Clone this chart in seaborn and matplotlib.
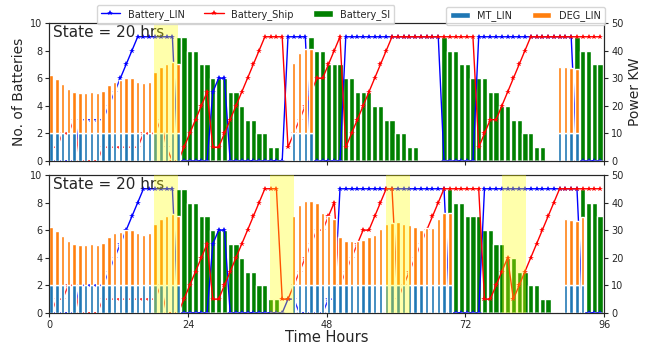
import numpy as np
import matplotlib
matplotlib.use("Agg")
import matplotlib.pyplot as plt
import seaborn as sns

hours = list(range(96))

# ---------------- top panel ----------------
top_lin = [0,0,0,0,0,3,3,3,3,3,4,5,
           6,7,8,9,9,9,9,9,9,9,0,0,
           0,0,0,0,5,6,6,0,0,0,0,0,
           0,0,0,0,0,9,9,9,9,0,0,0,
           0,0,0,9,9,9,9,9,9,9,9,9,
           9,9,9,9,9,9,9,9,0,0,0,0,
           0,0,9,9,9,9,9,9,9,9,9,9,
           9,9,9,9,9,9,9,0,0,0,0,0]
top_ship = [1,1,2,2,3,0,0,0,0,1,1,1,
            1,1,1,1,2,2,2,3,1,0,0,1,
            2,3,4,5,1,1,2,3,4,5,6,7,
            8,9,9,9,9,1,2,3,4,5,6,6,
            7,8,9,1,2,3,4,5,6,7,8,9,
            9,9,9,9,9,9,9,9,9,9,9,9,
            9,9,1,2,3,3,4,5,6,7,8,9,
            9,9,9,9,9,9,9,9,9,9,9,9]
top_si = [0,0,0,0,0,0,0,0,0,0,0,0,
          0,0,0,0,0,0,0,0,0,0,9,9,
          8,8,7,7,6,6,6,5,5,4,3,3,
          2,2,1,1,0,0,0,0,0,9,8,8,
          7,7,7,6,6,5,5,5,4,4,3,3,
          2,2,1,1,0,0,0,0,9,8,8,7,
          7,6,6,6,5,5,4,4,3,3,2,2,
          1,1,0,0,0,0,0,9,8,8,7,7]
top_mt = [10,10,10,10,10,10,10,10,10,10,10,10,
          10,10,10,10,10,10,10,10,10,10,10,0,
          0,0,0,0,0,0,0,0,0,0,0,0,
          0,0,0,0,0,0,10,10,10,10,0,0,
          0,0,0,0,0,0,0,0,0,0,0,0,
          0,0,0,0,0,0,0,0,0,0,0,0,
          0,0,0,0,0,0,0,0,0,0,0,0,
          0,0,0,0,10,10,10,10,0,0,0,0]
top_deg = [21,19.8,18,16,15,14.6,14.6,15,14.6,15.2,17.4,18.8,
           19.4,20,20,18.8,18.2,18.8,22.2,24,25.2,26,25.2,0,
           0,0,0,0,0,0,0,0,0,0,0,0,
           0,0,0,0,0,0,25.5,29,30.7,30.7,0,0,
           0,0,0,0,0,0,0,0,0,0,0,0,
           0,0,0,0,0,0,0,0,0,0,0,0,
           0,0,0,0,0,0,0,0,0,0,0,0,
           0,0,0,0,24.2,24.2,23.6,23.3,0,0,0,0]

# ---------------- bottom panel ----------------
bot_lin = [0,0,0,0,0,2,2,2,2,2,3,4,
           5,6,7,8,9,9,9,9,9,9,0,0,
           0,0,0,0,5,6,6,0,0,0,0,0,
           0,0,0,0,0,1,1,0,0,0,0,0,
           1,1,9,9,9,9,9,9,9,9,9,9,
           9,9,9,9,9,9,9,9,9,0,0,0,
           0,0,0,9,9,9,9,9,9,9,9,9,
           9,9,9,9,9,9,9,9,0,0,0,0]
bot_ship = [0,1,1,2,2,0,0,0,0,1,1,1,
            1,1,1,1,1,1,1,2,0,0,0,1,
            2,3,4,5,1,1,2,3,4,5,6,7,
            8,9,9,9,1,1,2,3,4,5,6,6,
            7,8,2,3,4,5,6,6,7,8,9,9,
            1,2,3,4,5,6,7,8,9,9,9,9,
            9,9,9,1,1,2,3,4,1,2,3,4,
            5,6,7,8,9,9,9,9,9,9,9,9]
bot_si = [0,0,0,0,0,0,0,0,0,0,0,0,
          0,0,0,0,0,0,0,0,0,0,9,9,
          8,8,7,7,6,6,6,5,5,4,3,3,
          2,2,1,1,0,0,0,0,0,0,0,0,
          0,0,0,0,0,0,0,0,0,0,0,0,
          0,0,0,0,0,0,0,0,0,9,8,8,
          7,7,7,6,6,5,5,4,4,3,3,2,
          2,1,1,0,0,0,0,0,9,8,8,7]
bot_mt = [10,10,10,10,10,10,10,10,10,10,10,10,
          10,10,10,10,10,10,10,10,10,10,10,0,
          0,0,0,0,0,0,0,0,0,0,0,0,
          0,0,0,0,0,0,10,10,10,10,10,10,
          10,10,10,10,10,10,10,10,10,10,10,10,
          10,10,10,10,10,10,10,10,10,10,0,0,
          0,0,0,0,0,0,0,0,0,0,0,0,
          0,0,0,0,0,10,10,10,10,0,0,0]
bot_deg = [21,19.8,18,16,15,14.6,14.6,15,14.6,15.2,17.4,18.8,
           19.4,20,20,18.8,18.2,18.8,22.2,24,25.2,26,25.2,0,
           0,0,0,0,0,0,0,0,0,0,0,0,
           0,0,0,0,0,0,25,29.3,30.7,30.7,30,26.4,
           25,24,17.4,16,16,16,16.4,17.4,18.3,20.3,22.4,22.6,
           23,22.4,21.8,21,20,20.9,20.9,24,26.3,26.3,0,0,
           0,0,0,0,0,0,0,0,0,0,0,0,
           0,0,0,0,0,24.2,23.7,23.5,24.9,0,0,0]

top_spans = [(18.2, 22.2)]
bot_spans = [(18.2, 22.2), (38.2, 42.3), (58.3, 62.4), (78.3, 82.4)]
state_text = "State = 20 hrs"

sns.set_style("ticks")
plt.rcParams['font.family'] = ['DejaVu Sans']

fig = plt.figure(figsize=(6.51, 3.48), dpi=100)
ax_top = fig.add_axes([0.0757, 0.537, 0.8523, 0.397])
ax_bot = fig.add_axes([0.0757, 0.1006, 0.8523, 0.3966])


def panel(ax, lin, ship, si, mt, deg, spans):
    x = np.asarray(hours, dtype=float) + 0.3
    # battery counts (left axis): SI bars and the two lines
    ax.bar(x, si, width=0.9, color='green', label='Battery_SI', zorder=1)
    sns.lineplot(x=x, y=lin, ax=ax, color='blue', marker='*', markersize=4,
                 markeredgewidth=0, lw=1, label='Battery_LIN', legend=False,
                 sort=False, estimator=None, zorder=3)
    sns.lineplot(x=x, y=ship, ax=ax, color='red', marker='*', markersize=4,
                 markeredgewidth=0, lw=1, label='Battery_Ship', legend=False,
                 sort=False, estimator=None, zorder=3)
    ax.set_xlim(0, 96)
    ax.set_ylim(0, 10)
    ax.set_yticks([0, 2, 4, 6, 8, 10])
    ax.set_xticks([0, 24, 48, 72, 96])
    ax.tick_params(labelsize=7, length=3, pad=2)
    ax.text(0.006, 0.985, state_text, transform=ax.transAxes, va='top',
            ha='left', fontsize=11, zorder=7)
    # power (right axis): generator bars on top layer
    ax2 = ax.twinx()
    ax2.bar(x, mt, width=0.6, color='#1f77b4', label='MT_LIN', zorder=2)
    ax2.bar(x, deg, bottom=mt, width=0.6, color='#ff7f0e', label='DEG_LIN', zorder=2)
    ax2.set_ylim(0, 50)
    ax2.set_yticks([0, 10, 20, 30, 40, 50])
    ax2.tick_params(labelsize=7, length=3, pad=2)
    for s0, s1 in spans:
        ax2.axvspan(s0, s1, color='yellow', alpha=0.33, lw=0, zorder=6)
    ax2.set_xlim(0, 96)
    return ax2


ax2_top = panel(ax_top, top_lin, top_ship, top_si, top_mt, top_deg, top_spans)
ax2_bot = panel(ax_bot, bot_lin, bot_ship, bot_si, bot_mt, bot_deg, bot_spans)

ax_top.tick_params(labelbottom=False)
ax_top.set_ylabel("No. of Batteries", fontsize=10, labelpad=3)
ax2_top.set_ylabel("Power KW", fontsize=10, labelpad=3)
ax_bot.set_xlabel("Time Hours", fontsize=10.5, labelpad=0)

h1, l1 = ax_top.get_legend_handles_labels()
d1 = dict(zip(l1, h1))
h2, l2 = ax2_top.get_legend_handles_labels()
d2 = dict(zip(l2, h2))
fig.legend([d1['Battery_LIN'], d1['Battery_Ship'], d1['Battery_SI']],
           ['Battery_LIN', 'Battery_Ship', 'Battery_SI'], loc='upper left',
           bbox_to_anchor=(0.141, 1.0), ncol=3, fontsize=7, frameon=True)
fig.legend([d2['MT_LIN'], d2['DEG_LIN']], ['MT_LIN', 'DEG_LIN'], loc='upper left',
           bbox_to_anchor=(0.678, 0.995), ncol=2, fontsize=7, frameon=True)

fig.savefig("out.png", dpi=100)
